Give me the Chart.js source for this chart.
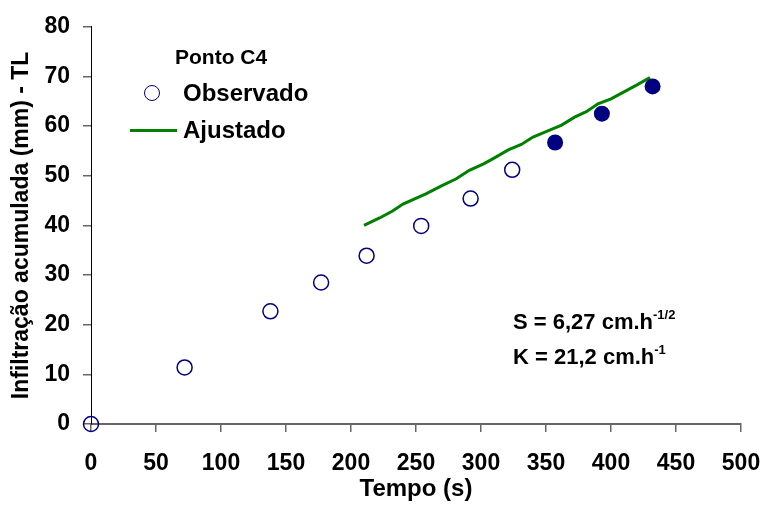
<!DOCTYPE html>
<html>
<head>
<meta charset="utf-8">
<script src="https://cdn.jsdelivr.net/npm/chart.js@4.4.1/dist/chart.umd.min.js"></script>
<style>
  body { margin: 0; background: #fff; }
  #wrap { position: relative; width: 768px; height: 507px; font-family: "Liberation Sans", Arial, sans-serif; font-weight: bold; color: #000; }
  .txt { position: absolute; white-space: nowrap; }
  .sup { font-size: 13px; position: relative; top: -10px; }
</style>
</head>
<body>
<div id="wrap">
  <canvas id="grafico" width="768" height="507"></canvas>
  <div class="txt" style="left:175px; top:46px; font-size:21px; line-height:21px;">Ponto C4</div>
  <div style="position:absolute; left:143.5px; top:84.5px; width:14px; height:14px; border:1.5px solid #000080; border-radius:50%;"></div>
  <div class="txt" style="left:183px; top:81px; font-size:24px; line-height:24px;">Observado</div>
  <div style="position:absolute; left:130px; top:128.5px; width:47px; height:3px; background:#008000;"></div>
  <div class="txt" style="left:183px; top:118px; font-size:24px; line-height:24px;">Ajustado</div>
  <div class="txt" style="left:513px; top:311px; font-size:22px; line-height:22px;">S = 6,27 cm.h<span class="sup">-1/2</span></div>
  <div class="txt" style="left:513px; top:346px; font-size:22px; line-height:22px;">K = 21,2 cm.h<span class="sup">-1</span></div>
</div>
<script>
// pontos observados (abertos e cheios) e curva ajustada
const tempoAberto = [0, 72, 138, 177, 212, 254, 292, 324];
const infAberto = [0, 11.4, 22.7, 28.5, 33.9, 39.9, 45.4, 51.2];
const tempoCheio = [357, 393, 432];
const infCheio = [56.7, 62.5, 68.0];
const tempoAjuste = [210, 222, 232, 240, 258, 270, 281, 291, 302, 309, 321, 331, 340, 351, 362, 372, 381, 390, 400, 410, 420, 430];
const infAjuste = [40.0, 41.5, 42.9, 44.3, 46.4, 48.0, 49.4, 51.1, 52.4, 53.4, 55.2, 56.3, 57.8, 59.0, 60.2, 61.8, 62.9, 64.5, 65.5, 66.9, 68.3, 69.8];
const ticksX = [0, 50, 100, 150, 200, 250, 300, 350, 400, 450, 500];
const ticksY = [0, 10, 20, 30, 40, 50, 60, 70, 80];

const fonte = "'Liberation Sans', Arial, sans-serif";
const pares = (xs, ys) => xs.map((x, i) => ({ x: x, y: ys[i] }));

const ctx = document.getElementById('grafico');
const myChart = new Chart(ctx, {
        type: 'scatter',
        data: {
                datasets: [{
                        label: 'Observado',
                        data: pares(tempoAberto, infAberto),
                        pointRadius: 7.5,
                        pointBorderWidth: 1.5,
                        pointBorderColor: '#000080',
                        pointBackgroundColor: 'rgba(0,0,0,0)',
                        clip: false
                }, {
                        label: 'Observado2',
                        data: pares(tempoCheio, infCheio),
                        pointRadius: 8,
                        pointBorderWidth: 0,
                        pointBackgroundColor: '#000080',
                        clip: false
                }, {
                        type: 'line',
                        label: 'Ajustado',
                        data: pares(tempoAjuste, infAjuste),
                        borderColor: '#008000',
                        borderWidth: 3,
                        pointRadius: 0,
                        tension: 0,
                        fill: false
                }]
        },
        options: {
                responsive: false,
                animation: false,
                layout: { padding: { top: 21, right: 27, left: 0, bottom: 0 } },
                plugins: { legend: { display: false }, tooltip: { enabled: false } },
                scales: {
                        x: {
                                type: 'linear',
                                min: 0,
                                max: 500,
                                afterFit: s => { s.height = 83; s.paddingRight = 27; s.paddingLeft = 0; },
                                afterBuildTicks: s => { s.ticks = ticksX.map(v => ({ value: v })); },
                                ticks: { font: { family: fonte, size: 23, weight: 'bold' }, color: '#000', padding: 18, maxRotation: 0 },
                                grid: { drawOnChartArea: false, drawTicks: true, tickLength: 8, color: '#666', lineWidth: 1.5 },
                                border: { color: '#666', width: 2 },
                                title: { display: true, text: 'Tempo (s)', color: '#000', font: { family: fonte, size: 24, weight: 'bold' }, padding: { top: 0, bottom: 3 } }
                        },
                        y: {
                                type: 'linear',
                                min: 0,
                                max: 80,
                                afterFit: s => { s.width = 91; },
                                afterBuildTicks: s => { s.ticks = ticksY.map(v => ({ value: v })); },
                                ticks: { font: { family: fonte, size: 23, weight: 'bold' }, color: '#000', padding: 13 },
                                grid: { drawOnChartArea: false, drawTicks: true, tickLength: 8, color: '#666', lineWidth: 1.5 },
                                border: { color: '#000', width: 1 },
                                title: { display: true, text: 'Infiltração acumulada (mm) - TL', color: '#000', font: { family: fonte, size: 23, weight: 'bold' }, padding: { top: 8, bottom: 0 } }
                        }
                }
        }
});
</script>
</body>
</html>
